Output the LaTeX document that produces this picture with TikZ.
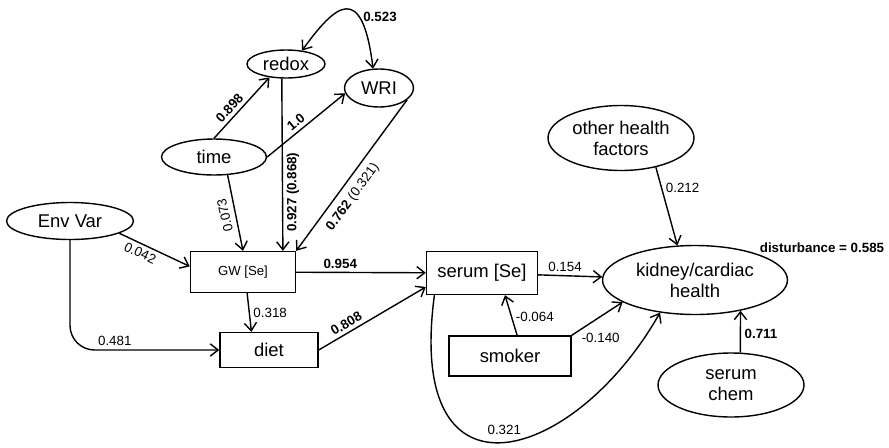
\documentclass[tikz,border=0pt]{standalone}
\usepackage{fontspec}
\setmainfont{Liberation Sans}
\usepackage{tikz}
\usetikzlibrary{shapes.geometric,arrows.meta}

\tikzset{
	latent/.style={draw, ellipse, inner sep=0pt, align=center, font=\fontsize{10.5}{12}\selectfont},
	observed/.style={draw, rectangle, inner sep=0pt, align=center, font=\fontsize{10.5}{12}\selectfont},
	coef/.style={font=\fontsize{7.6}{9}\selectfont, inner sep=2pt},
	bcoef/.style={coef, font=\fontsize{7.6}{9}\selectfont\bfseries}
}

\begin{document}
\begin{tikzpicture}[x=0.02cm, y=-0.02cm, line width=0.8pt, >={Straight Barb[length=4.5pt,width=7pt]}]
	\useasboundingbox (0,0) rectangle (889,447);
	
	\node[latent, minimum width=1.56cm, minimum height=0.56cm] (redox) at (286,64) {redox};
	\node[latent, minimum width=1.38cm, minimum height=0.76cm] (wri) at (379,88) {WRI};
	\node[latent, minimum width=2.1cm, minimum height=0.72cm] (time) at (214,157) {time};
	\node[latent, minimum width=2.54cm, minimum height=0.74cm] (envvar) at (70,221) {Env Var};
	\node[observed, minimum width=2.1cm, minimum height=0.82cm, font=\fontsize{7.5}{9}\selectfont] (gw) at (243,272) {GW [Se]};
	\node[observed, minimum width=1.96cm, minimum height=0.7cm] (diet) at (269,350) {diet};
	\node[observed, minimum width=2.22cm, minimum height=0.86cm] (serum) at (482,273) {serum [Se]};
	\node[observed, minimum width=2.44cm, minimum height=0.8cm] (smoker) at (510,356) {smoker};
	\node[latent, minimum width=3.7cm, minimum height=1.38cm] (kidney) at (695,280) {kidney/cardiac\\health};
	\node[latent, minimum width=2.92cm, minimum height=1.3cm] (other) at (621,138) {other health\\factors};
	\node[latent, minimum width=2.92cm, minimum height=1.28cm] (serumchem) at (731,385) {serum\\chem};
	\node[bcoef] (disturb) at (822,248) {disturbance = 0.585};
	
	% time, redox, WRI
	\draw [->] (time.north) -- node[bcoef, sloped, above, pos=0.4] {0.898} (redox.219);
	\draw [->] (time.east) -- node[bcoef, sloped, above, pos=0.44] {1.0} (wri.189);
	\draw [<->] (redox.40) .. controls (335,5) and (362,-20) .. node[bcoef, right, pos=0.7] {0.523} (wri.107);
	
	% into GW [Se]
	\draw [->] (time.-53) -- node[coef, anchor=south, rotate=103, inner sep=3pt] {0.073} (gw.north);
	\draw [->] (redox.-106) -- node[bcoef, anchor=north, rotate=90, pos=0.66] {0.927 (0.868)} (gw.28);
	\draw [->] (wri.-23) -- node[coef, sloped, below, pos=0.59, inner sep=4pt] {{\bfseries 0.762} (0.321)} (gw.north east);
	\draw [->] (envvar.-14) -- node[coef, sloped, below, pos=0.35] {0.042} (gw.174);
	
	% diet and serum
	\draw [->, rounded corners=14pt] (envvar.south) |- node[coef, above, pos=0.65] {0.481} (diet.west);
	\draw [->] (gw.-79) -- node[coef, right] {0.318} (diet.134);
	\draw [->] (gw) -- node[bcoef, above, pos=0.34] {0.954} (serum);
	\draw [->] (diet.east) -- node[bcoef, sloped, above, pos=0.3] {0.808} (serum.194);
	\draw [->] (smoker.71) -- node[coef, right, pos=0.45] {-0.064} (serum.-44);
	
	% kidney/cardiac health
	\draw [->] (serum) -- node[coef, above, pos=0.42] {0.154} (kidney);
	\draw [->] (smoker.north east) -- node[coef, below right, pos=0.15, inner sep=1pt] {-0.140} (kidney.197);
	\draw [->] (serum.205) .. controls (405,515) and (575,462) .. node[coef, above, pos=0.5, inner sep=4pt] {0.321} (kidney.223);
	\draw [->] (serumchem.74) -- node[bcoef, right, pos=0.44] {0.711} (kidney.-34);
	\draw [->] (other.-40) -- node[coef, right, pos=0.27] {0.212} (kidney.117);
	
\end{tikzpicture}
\end{document}
